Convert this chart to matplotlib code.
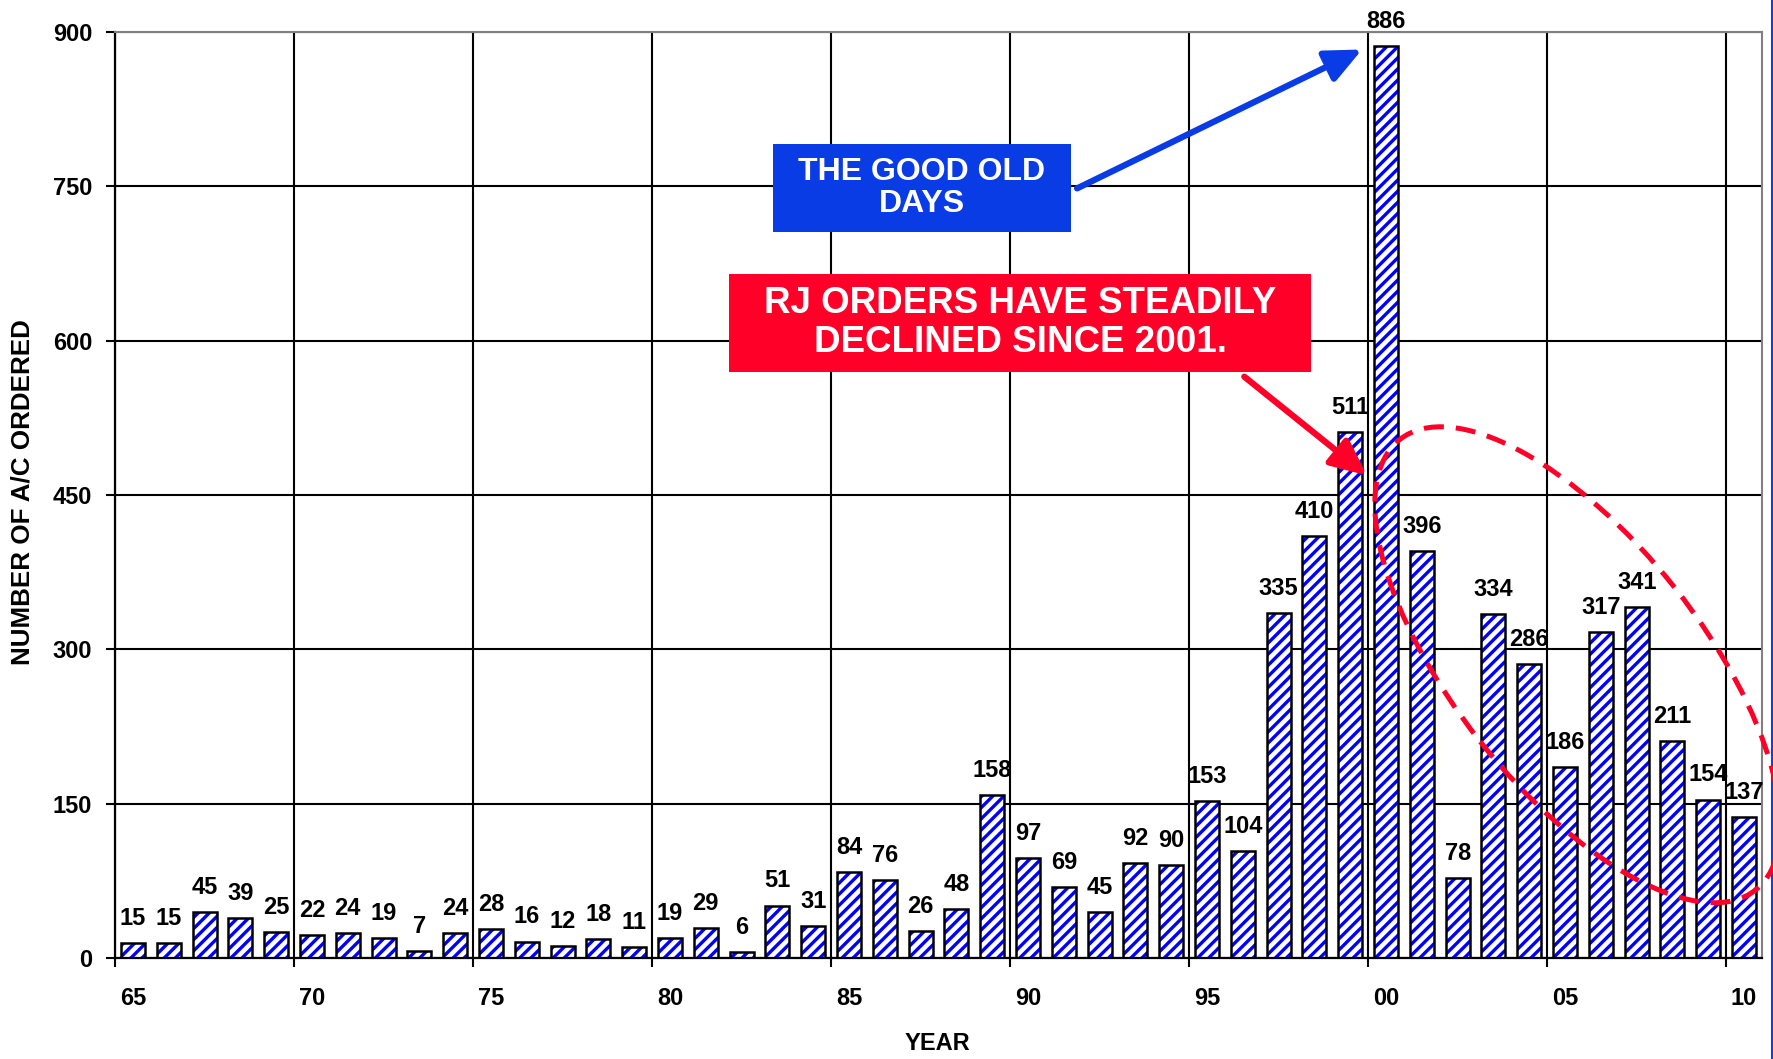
import numpy as np
import matplotlib
matplotlib.use("Agg")
import matplotlib.pyplot as plt
import matplotlib.patches as mpatches
from matplotlib.transforms import IdentityTransform

plt.rcParams.update({
    "font.family": ["Liberation Sans", "DejaVu Sans"],
    "font.weight": "bold",
    "font.size": 17,
    "hatch.linewidth": 2.4,
})

BAR_BLUE = "#0000ff"
BOX_BLUE = "#0a3ce6"
RED = "#ff0028"
GRAY = "#808080"

# regional jet orders per year, 1965-2010
years = list(range(1965, 2011))
orders = [15, 15, 45, 39, 25, 22, 24, 19, 7, 24,
          28, 16, 12, 18, 11, 19, 29, 6, 51, 31,
          84, 76, 26, 48, 158, 97, 69, 45, 92, 90,
          153, 104, 335, 410, 511, 886, 396, 78, 334, 286,
          186, 317, 341, 211, 154, 137]
y_ticks = [0, 150, 300, 450, 600, 750, 900]

W, H = 1773, 1059
fig = plt.figure(figsize=(W / 100, H / 100), dpi=100)
ax = fig.add_axes([115 / W, 101 / H, 1647 / W, 926 / H])

x = np.arange(len(years))
# hatched fill first, black outline on top
ax.bar(x, orders, width=0.67, color="white", edgecolor=BAR_BLUE, hatch="///",
       linewidth=0, zorder=2)
ax.bar(x, orders, width=0.67, fill=False, edgecolor="black", linewidth=1.8, zorder=3)

for xi, v in zip(x, orders):
    ax.annotate(f"{v}", (xi, v), xytext=(0, 13), textcoords="offset points",
                ha="center", va="baseline", fontsize=17, fontweight="bold",
                annotation_clip=False)

ax.set_xlim(-0.5, len(years) - 0.5)
ax.set_ylim(0, 900)

# year labels under every fifth bar, grid/tick marks on category boundaries
label_idx = [i for i, yr in enumerate(years) if yr % 5 == 0]
ax.set_xticks(label_idx)
ax.set_xticklabels([f"{years[i] % 100:02d}" for i in label_idx])
ax.set_xticks([i - 0.5 for i in label_idx], minor=True)
ax.tick_params(axis="x", which="major", length=0, pad=21, labelsize=17)
ax.tick_params(axis="x", which="minor", length=6.5, width=1.5, direction="out")
ax.set_yticks(y_ticks)
ax.tick_params(axis="y", length=6.5, width=1.5, pad=10, labelsize=17)
for lab in ax.get_xticklabels() + ax.get_yticklabels():
    lab.set_fontweight("bold")

ax.grid(axis="y", which="major", color="black", linewidth=1.5)
ax.grid(axis="x", which="minor", color="black", linewidth=1.5)
ax.set_axisbelow(True)

for side in ["left", "bottom"]:
    ax.spines[side].set_color("black")
    ax.spines[side].set_linewidth(1.6)
for side in ["top", "right"]:
    ax.spines[side].set_color(GRAY)
    ax.spines[side].set_linewidth(1.5)

fig.text(23 / W, 1 - 492 / H, "NUMBER OF A/C ORDERED", rotation=90,
         ha="center", va="center", fontsize=18.7, fontweight="bold")
fig.text(937 / W, 1 - 1050 / H, "YEAR", ha="center", va="baseline",
         fontsize=17, fontweight="bold")

# callout boxes
fig.patches.append(mpatches.Rectangle((773 / W, 1 - 232 / H), 298 / W, 88 / H,
                                      transform=fig.transFigure, facecolor=BOX_BLUE,
                                      edgecolor="none", zorder=5))
fig.text(922 / W, 1 - 188 / H, "THE GOOD OLD\nDAYS", ha="center", va="center",
         color="white", fontsize=23, fontweight="bold", linespacing=1.12, zorder=6)

fig.patches.append(mpatches.Rectangle((729 / W, 1 - 372 / H), 582 / W, 98 / H,
                                      transform=fig.transFigure, facecolor=RED,
                                      edgecolor="none", zorder=5))
fig.text(1020 / W, 1 - 323 / H, "RJ ORDERS HAVE STEADILY\nDECLINED SINCE 2001.",
         ha="center", va="center", color="white", fontsize=26.5, fontweight="bold",
         linespacing=1.15, zorder=6)

# arrows pointing at the 2000 peak
head = "-|>,head_length=1.1,head_width=0.5"
ax.annotate("", xy=(34.33, 883), xytext=(26.37, 748),
            arrowprops=dict(arrowstyle=head, color=BOX_BLUE, lw=4.5,
                            mutation_scale=20, shrinkA=0, shrinkB=0),
            annotation_clip=False, zorder=6)
ax.annotate("", xy=(34.47, 469), xytext=(31.04, 565),
            arrowprops=dict(arrowstyle=head, color=RED, lw=4.5,
                            mutation_scale=20, shrinkA=0, shrinkB=0),
            annotation_clip=False, zorder=6)

# dashed ring around the post-2001 years
cx, cy = ax.transData.transform((40.35, 285))
ring = mpatches.Ellipse((cx, cy), 574, 248, angle=-51.7, transform=IdentityTransform(),
                        fill=False, edgecolor=RED, linewidth=3.6,
                        linestyle=(0, (4, 2.4)), zorder=7)
fig.patches.append(ring)

# thin blue frame line on the right edge
fig.add_artist(plt.Line2D([1771.5 / W, 1771.5 / W], [0, 1], transform=fig.transFigure,
                          color="#1040e0", linewidth=1.5))

fig.savefig("out.png", dpi=100, facecolor="white")
